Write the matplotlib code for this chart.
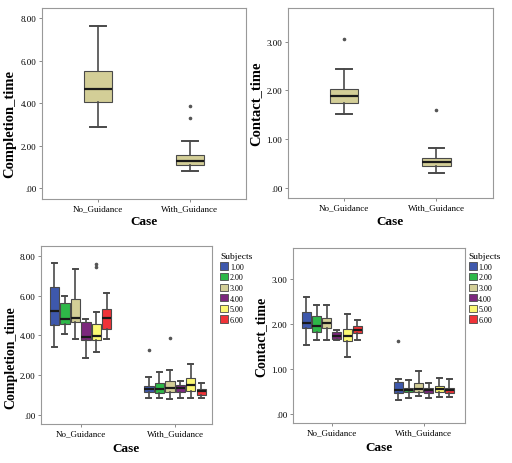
import matplotlib
matplotlib.use("Agg")
import matplotlib.pyplot as plt
from matplotlib.patches import Patch
from matplotlib.ticker import FuncFormatter

# categories and subjects
cases = ["No_Guidance", "With_Guidance"]
subjects = ["1.00", "2.00", "3.00", "4.00", "5.00", "6.00"]
subject_colors = ["#3e58ac", "#2eb848", "#d3ce97", "#7c287d", "#fbf873", "#ef3338"]

# overall boxes: [lower whisker, Q1, median, Q3, upper whisker], outliers
comp_all = [[2.87, 4.06, 4.70, 5.51, 7.63], [0.80, 1.10, 1.31, 1.58, 2.22]]
comp_all_out = [[], [3.31, 3.88]]
cont_all = [[1.52, 1.75, 1.89, 2.03, 2.44], [0.32, 0.46, 0.53, 0.62, 0.82]]
cont_all_out = [[3.05], [1.61]]

# per subject boxes, completion time
comp_no = [[3.44, 4.54, 5.23, 6.44, 7.63],
           [4.05, 4.57, 4.84, 5.63, 6.00],
           [3.83, 4.69, 4.89, 5.81, 7.36],
           [2.87, 3.78, 3.92, 4.69, 4.83],
           [3.19, 3.78, 3.98, 4.57, 5.19],
           [3.83, 4.32, 4.89, 5.31, 6.14]]
comp_no_out = [[], [], [], [], [7.43, 7.60], []]
comp_with = [[0.84, 1.14, 1.30, 1.45, 1.93],
             [0.84, 1.11, 1.31, 1.60, 2.15],
             [0.79, 1.14, 1.36, 1.70, 2.25],
             [0.84, 1.14, 1.36, 1.53, 1.70],
             [0.87, 1.21, 1.50, 1.87, 2.54],
             [0.84, 1.01, 1.19, 1.31, 1.60]]
comp_with_out = [[3.29], [], [3.88], [], [], []]

# per subject boxes, contact time
cont_no = [[1.54, 1.92, 2.03, 2.28, 2.60],
           [1.64, 1.83, 1.97, 2.19, 2.42],
           [1.64, 1.92, 2.02, 2.13, 2.42],
           [1.64, 1.66, 1.73, 1.82, 1.88],
           [1.28, 1.62, 1.74, 1.89, 2.22],
           [1.64, 1.80, 1.88, 1.95, 2.10]]
cont_no_out = [[], [], [], [], [], []]
cont_with = [[0.31, 0.47, 0.54, 0.71, 0.77],
             [0.36, 0.49, 0.54, 0.59, 0.76],
             [0.41, 0.50, 0.56, 0.69, 0.95],
             [0.36, 0.48, 0.53, 0.59, 0.70],
             [0.39, 0.49, 0.55, 0.62, 0.81],
             [0.37, 0.48, 0.54, 0.59, 0.78]]
cont_with_out = [[1.62], [], [], [], [], []]

SERIF = ["Liberation Serif", "DejaVu Serif"]
EDGE = "#4a4a4a"


def make_stats(vals, outs):
    lo, q1, med, q3, hi = vals
    return dict(whislo=lo, q1=q1, med=med, q3=q3, whishi=hi, fliers=outs)


def draw(ax, stats, positions, colors, width):
    b = ax.bxp(stats, positions=positions, widths=width, patch_artist=True,
               manage_ticks=False,
               boxprops=dict(edgecolor=EDGE, linewidth=0.8),
               whiskerprops=dict(color=EDGE, linewidth=1.2),
               capprops=dict(color=EDGE, linewidth=1.4),
               medianprops=dict(color="#1a1a1a", linewidth=1.6),
               flierprops=dict(marker="o", markersize=1.6, markerfacecolor="#555555",
                               markeredgecolor="#555555", linestyle="none"),
               capwidths=width * 0.55)
    for patch, c in zip(b["boxes"], colors):
        patch.set_facecolor(c)


def style(ax, ylabel, yticks, ylim, xlim, ylsize, ylpos, xlpos):
    ax.set_xlim(*xlim)
    ax.set_ylim(*ylim)
    ax.set_yticks(yticks)
    ax.yaxis.set_major_formatter(FuncFormatter(lambda v, p: ("%.2f" % v).lstrip("0")))
    ax.set_xticks([0, 1])
    ax.set_xticklabels(cases)
    for t in ax.get_xticklabels() + ax.get_yticklabels():
        t.set_fontfamily(SERIF)
        t.set_fontsize(6.5)
    ax.tick_params(length=2.5, width=0.6, color="#777777", pad=1.5)
    for s in ax.spines.values():
        s.set_color("#999999")
        s.set_linewidth(0.8)
    ax.set_xlabel("Case", fontfamily=SERIF, fontsize=9.5, fontweight="bold")
    ax.set_ylabel(ylabel, fontfamily=SERIF, fontsize=ylsize, fontweight="bold")
    ax.yaxis.set_label_coords(*ylpos)
    ax.xaxis.set_label_coords(*xlpos)


fig = plt.figure(figsize=(5.12, 4.64), dpi=100)
tan = "#d3ce97"

# top-left
ax1 = fig.add_axes([0.082, 0.569, 0.398, 0.412])
draw(ax1, [make_stats(v, o) for v, o in zip(comp_all, comp_all_out)], [0, 1], [tan, tan], 0.31)
style(ax1, "Completion_time", [0, 2, 4, 6, 8], (-0.5, 8.5), (-0.61, 1.61), 10.5,
      (-0.125, 0.40), (0.5, -0.085))

# top-right
ax2 = fig.add_axes([0.5625, 0.571, 0.400, 0.409])
draw(ax2, [make_stats(v, o) for v, o in zip(cont_all, cont_all_out)], [0, 1], [tan, tan], 0.31)
style(ax2, "Contact_time", [0, 1, 2, 3], (-0.2, 3.68), (-0.605, 1.61), 10.5,
      (-0.125, 0.50), (0.5, -0.09))

# grouped panels
step = 0.111
offsets = [(i - 2.5) * step for i in range(6)]


def grouped(ax, no_vals, no_out, with_vals, with_out):
    for c, vals, outs in [(0, no_vals, no_out), (1, with_vals, with_out)]:
        st = [make_stats(v, o) for v, o in zip(vals, outs)]
        draw(ax, st, [c + d for d in offsets], subject_colors, 0.098)


ax3 = fig.add_axes([0.080, 0.084, 0.334, 0.384])
grouped(ax3, comp_no, comp_no_out, comp_with, comp_with_out)
style(ax3, "Completion_time", [0, 2, 4, 6, 8], (-0.45, 8.5), (-0.42, 1.39), 10,
      (-0.14, 0.38), (0.5, -0.10))

ax4 = fig.add_axes([0.572, 0.086, 0.336, 0.377])
grouped(ax4, cont_no, cont_no_out, cont_with, cont_with_out)
style(ax4, "Contact_time", [0, 1, 2, 3], (-0.2, 3.69), (-0.424, 1.446), 10,
      (-0.15, 0.50), (0.5, -0.10))

handles = [Patch(facecolor=c, edgecolor=EDGE, linewidth=0.6) for c in subject_colors]
for ax, x in [(ax3, 0.427), (ax4, 0.912)]:
    leg = fig.legend(handles, subjects, title="Subjects", loc="upper left",
                     bbox_to_anchor=(x, 0.458), frameon=False,
                     prop=dict(family=SERIF, size=5.8),
                     handlelength=1.0, handleheight=1.0, handletextpad=0.2,
                     labelspacing=0.28, borderaxespad=0.0, borderpad=0.2)
    leg.get_title().set_fontfamily(SERIF)
    leg.get_title().set_fontsize(6.8)
    leg._legend_box.align = "left"

fig.savefig("out.png", dpi=100, facecolor="white")
